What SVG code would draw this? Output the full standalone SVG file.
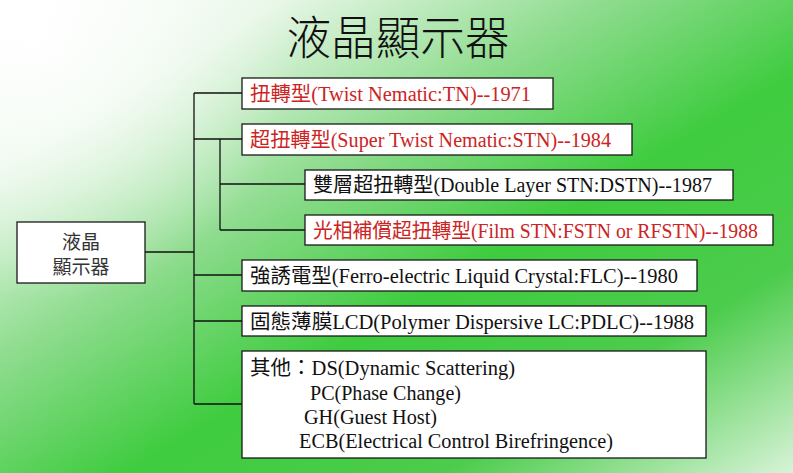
<svg xmlns="http://www.w3.org/2000/svg" width="793" height="473" viewBox="0 0 793 473">
<defs>
<linearGradient id="bg" x1="0" y1="0" x2="1" y2="1">
<stop offset="0" stop-color="#ffffff"/>
<stop offset="0.18" stop-color="#e6f6e6"/>
<stop offset="0.38" stop-color="#8fdc8f"/>
<stop offset="0.58" stop-color="#3fcc3f"/>
<stop offset="0.78" stop-color="#4ccc4c"/>
<stop offset="1" stop-color="#d8f3d8"/>
</linearGradient>
<radialGradient id="glow" cx="40" cy="40" r="260" gradientUnits="userSpaceOnUse">
<stop offset="0" stop-color="#ffffff" stop-opacity="0.9"/>
<stop offset="1" stop-color="#ffffff" stop-opacity="0"/>
</radialGradient>
</defs>
<style>
.box{fill:#ffffff;stroke:#1a1a1a;stroke-width:1.3}
.red{fill:#cc2424}
.blk{fill:#111111}
.conn line{stroke:#111111;stroke-width:1.3}
</style>
<rect x="0" y="0" width="793" height="473" fill="url(#bg)"/>
<rect x="0" y="0" width="793" height="473" fill="url(#glow)"/>
<text x="398" y="54" text-anchor="middle" style="font-family:'Noto Sans CJK TC',sans-serif;font-weight:300;font-size:46px" fill="#111" textLength="223" lengthAdjust="spacingAndGlyphs">液晶顯示器</text>
<g class="conn">
<line x1="145" y1="252" x2="194" y2="252"/>
<line x1="194" y1="93" x2="194" y2="404"/>
<line x1="194" y1="93" x2="242" y2="93"/>
<line x1="194" y1="139" x2="242" y2="139"/>
<line x1="194" y1="275" x2="242" y2="275"/>
<line x1="194" y1="321" x2="242" y2="321"/>
<line x1="194" y1="404" x2="242" y2="404"/>
<line x1="220" y1="139" x2="220" y2="230"/>
<line x1="220" y1="184" x2="305" y2="184"/>
<line x1="220" y1="230" x2="305" y2="230"/>
</g>
<g id="root" style="font-family:'Noto Sans CJK TC',sans-serif;font-size:19px">
<rect class="box" x="17" y="222" width="128" height="61"/>
<text x="81" y="249" text-anchor="middle" fill="#333">液晶</text>
<text x="81" y="274" text-anchor="middle" fill="#333">顯示器</text>
</g>
<g id="items" style="font-family:'Liberation Serif','Noto Sans CJK TC',serif;font-size:20.5px">
<g id="tn">
<rect class="box" x="242" y="78" width="311" height="31"/>
<text class="red" x="250" y="101" textLength="281" lengthAdjust="spacingAndGlyphs">扭轉型(Twist Nematic:TN)--1971</text>
</g>
<g id="stn">
<rect class="box" x="242" y="124" width="390" height="31"/>
<text class="red" x="250" y="147" textLength="361" lengthAdjust="spacingAndGlyphs">超扭轉型(Super Twist Nematic:STN)--1984</text>
</g>
<g id="dstn">
<rect class="box" x="305" y="170" width="428" height="30"/>
<text class="blk" x="313" y="192" textLength="399" lengthAdjust="spacingAndGlyphs">雙層超扭轉型(Double Layer STN:DSTN)--1987</text>
</g>
<g id="fstn">
<rect class="box" x="305" y="215" width="468" height="30"/>
<text class="red" x="313" y="238" textLength="445" lengthAdjust="spacingAndGlyphs">光相補償超扭轉型(Film STN:FSTN or RFSTN)--1988</text>
</g>
<g id="flc">
<rect class="box" x="242" y="260" width="455" height="31"/>
<text class="blk" x="250" y="283" textLength="428" lengthAdjust="spacingAndGlyphs">強誘電型(Ferro-electric Liquid Crystal:FLC)--1980</text>
</g>
<g id="pdlc">
<rect class="box" x="242" y="306" width="464" height="30"/>
<text class="blk" x="250" y="329" textLength="444" lengthAdjust="spacingAndGlyphs">固態薄膜LCD(Polymer Dispersive LC:PDLC)--1988</text>
</g>
<g id="others">
<rect class="box" x="242" y="351" width="464" height="107"/>
<text class="blk" x="250" y="375" textLength="265" lengthAdjust="spacingAndGlyphs">其他：DS(Dynamic Scattering)</text>
<text class="blk" x="310" y="400" textLength="151" lengthAdjust="spacingAndGlyphs">PC(Phase Change)</text>
<text class="blk" x="304" y="424" textLength="133" lengthAdjust="spacingAndGlyphs">GH(Guest Host)</text>
<text class="blk" x="299" y="448" textLength="314" lengthAdjust="spacingAndGlyphs">ECB(Electrical Control Birefringence)</text>
</g>
</g>
</svg>
